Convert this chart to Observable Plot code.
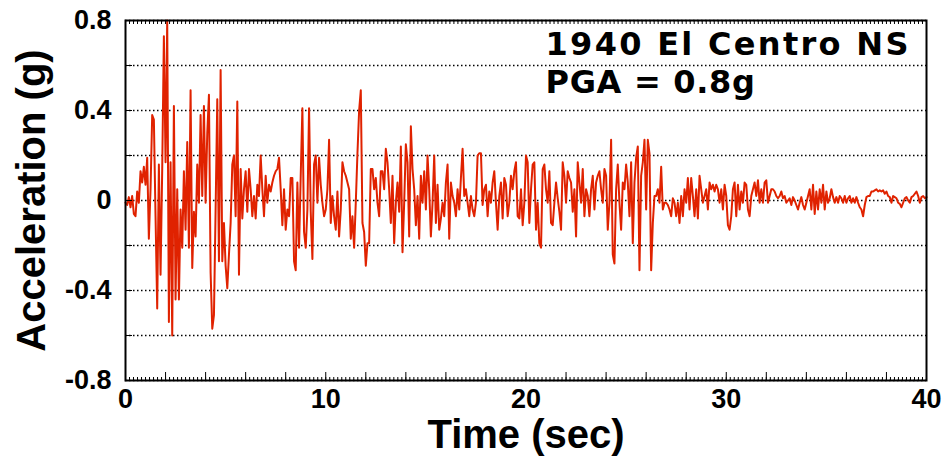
<!DOCTYPE html>
<html><head><meta charset="utf-8">
<script src="https://cdn.jsdelivr.net/npm/d3@7"></script>
<script src="https://cdn.jsdelivr.net/npm/@observablehq/plot@0.6"></script>
<style>
body{margin:0;background:#fff}
</style></head><body><div id="chart"></div>
<script>
// Ground acceleration (g) at a 1/12 s sampling interval
const sampleInterval = 1 / 12; // seconds between readings
const acc_0_5 = [-0.01,-0.02,0.015,-0.03,0.02,-0.06,-0.07,0.04,-0.01,0.13,
  0.08,0.15,0.07,0.19,-0.17,0.05,0.38,0.36,-0.07,-0.48,
  0.16,-0.33,0.14,0.73,0.17,0.8,-0.54,0.17,-0.60,0.42,
  -0.44,0.05,-0.44,-0.04,-0.21,0.13,-0.13,0.26,-0.21,0.49,
  -0.30,-0.05,-0.16,0.16,-0.01,0.38,0.02,0.42,-0.01,0.30,
  0.47,-0.32,-0.57,-0.51,-0.04,0.45,-0.27,0.58,-0.27,-0.10,
  -0.29,-0.39,-0.24,-0.10,0.16,0.20,-0.07,0.44,-0.33];
const acc_6_11 = [0.14,-0.08,0.05,0.13,-0.05,0.14,0.05,-0.07,0.02,-0.08,
  0.07,0.02,0.20,0.05,-0.07,0.11,-0.01,0.07,0.04,0.08,
  0.11,0.13,0.14,0.19,0.05,-0.11,0.05,-0.13,-0.04,-0.07,
  0.10,0.10,-0.27,-0.31,0.08,-0.21,0.11,0.41,-0.14,-0.21,
  -0.04,0.41,-0.05,-0.26,0.16,0.20,-0.01,0.19,0.07,-0.01,
  -0.07,-0.04,0.05,0.27,-0.10,0.02,-0.07,-0.13,0.04,-0.16,
  -0.04,0.17,0.13,0.11,0.08,0.05,-0.17,-0.07,-0.21,-0.01,
  0.21,0.40];
const acc_12_17 = [0.49,-0.10,-0.14,-0.29,-0.19,-0.19,0.14,0.14,0.05,0.10,
  -0.01,-0.07,0.13,0.13,0.05,0.23,0.17,0.05,-0.10,0.11,
  -0.19,-0.01,0.08,-0.05,0.24,-0.23,-0.01,0.25,0.17,-0.16,
  0.33,0.14,0.05,-0.11,0.02,-0.17,0.11,-0.01,0.13,-0.04,
  0.20,0.05,-0.16,-0.01,0.20,-0.10,0.07,-0.13,-0.08,-0.01,
  -0.07,0.08,0.16,-0.17,0.08,0.02,-0.01,-0.07,0.05,-0.04,
  0.10,0.23,0.02,0.05,-0.01,-0.07,0.02,-0.04,-0.07,-0.01,
  0.20,0.21];
const acc_18_23 = [0.21,-0.02,0.05,0.07,-0.07,0.04,-0.01,0.08,0.13,-0.01,
  -0.13,0.02,0.08,-0.08,0.10,0.07,-0.07,-0.01,0.11,0.05,
  0.13,0.17,-0.07,-0.08,0.05,-0.11,-0.01,0.20,0.17,-0.10,
  0.05,0.16,0.17,-0.13,-0.01,-0.19,-0.21,0.14,0.16,0.05,
  -0.01,0.13,-0.10,-0.11,-0.01,0.08,0.01,-0.05,-0.13,0.17,
  0.11,-0.01,0.13,0.10,0.08,-0.05,0.05,-0.16,0.17,0.08,
  -0.01,0.14,-0.07,0.05,0.02,-0.07,0.05,0.11,-0.04,0.08,
  0.11,0.13];
const acc_24_29 = [0.05,-0.01,0.14,0.11,-0.13,-0.01,0.27,-0.24,-0.28,0.05,
  0.16,-0.01,-0.13,0.08,0.05,0.16,0.08,-0.07,0.17,-0.19,
  0.08,0.19,0.24,-0.31,0.11,0.17,0.27,-0.04,0.27,0.21,
  -0.31,-0.10,0.02,0.02,0.05,-0.01,0.15,-0.04,-0.01,-0.01,
  -0.02,-0.04,-0.07,0.01,-0.01,-0.07,-0.01,-0.10,0.02,-0.07,
  0.05,-0.01,0.10,-0.04,0.10,0.02,-0.07,0.05,-0.08,0.11,
  0.05,-0.01,0.02,0.05,-0.04,0.08,0.05,0.07,0.04,0.07,
  0.05,-0.01];
const acc_30_34 = [0.05,-0.04,0.07,0.02,-0.11,-0.13,-0.07,0.05,0.08,-0.07,
  0.07,-0.04,0.04,-0.01,0.08,0.07,-0.04,-0.07,0.02,0.05,
  0.08,0.02,0.09,-0.01,0.05,-0.01,0.08,0.09,-0.01,0.02,
  0.05,0.05,0.04,0.02,0.01,0.02,0.04,0.01,0.02,-0.01,
  0.00,0.01,-0.02,0.015,0.00,-0.02,-0.04,-0.01,0.015,-0.02,
  -0.04,-0.01,0.02,0.05,-0.04,0.07,-0.06,0.04,-0.04,0.05];
const acc_35_40 = [-0.01,0.07,-0.04,0.04,-0.01,0.01,0.05,0.015,-0.01,0.015,
  -0.01,0.02,0.01,-0.01,0.02,-0.01,0.01,0.02,-0.01,0.01,
  -0.01,0.015,-0.01,-0.03,-0.04,-0.07,-0.02,0.015,0.02,0.02,
  0.04,0.04,0.045,0.05,0.04,0.045,0.04,0.045,0.03,0.04,
  0.02,0.015,-0.01,0.02,0.015,0.01,-0.01,-0.015,-0.03,-0.01,
  0.01,0.015,0.00,-0.01,0.015,0.02,0.03,0.04,0.02,-0.01,
  0.015,0.02,0.01,0.015];

const xLabelTicks = [0, 10, 20, 30, 40];
const yLabelTicks = [-0.8, -0.4, 0, 0.4, 0.8];
const title1 = "1940 El Centro NS";
const title2 = "PGA = 0.8g";
const xTitle = "Time (sec)";
const yTitle = "Acceleration (g)";

const accel = [].concat(acc_0_5, acc_6_11, acc_12_17, acc_18_23, acc_24_29, acc_30_34, acc_35_40);
const record = accel.map((a, i) => ({t: i * sampleInterval, a}));

const chart = Plot.plot({
  width: 947, height: 464,
  marginLeft: 125, marginRight: 21, marginTop: 20, marginBottom: 84,
  style: {fontFamily: "'Liberation Sans', Arial, sans-serif", fontWeight: "bold", fontSize: "27px", background: "#fff", color: "#000"},
  x: {domain: [0, 40]},
  y: {domain: [-0.8, 0.8]},
  marks: [
    Plot.gridY({ticks: 8, stroke: "#000", strokeOpacity: 1, strokeWidth: 1.3, strokeDasharray: "1.5,2.5"}),
    Plot.line(record, {x: "t", y: "a", stroke: "#e02200", strokeWidth: 2}),
    Plot.frame({stroke: "#000", strokeWidth: 2}),
    Plot.axisX({ticks: 200, tickSize: -3, tickFormat: () => "", label: null}),
    Plot.axisX({anchor: "top", ticks: 200, tickSize: -3, tickFormat: () => "", label: null}),
    Plot.axisX({ticks: 20, tickSize: -8, tickFormat: () => "", label: null}),
    Plot.axisX({ticks: xLabelTicks, tickSize: 0, tickPadding: 8, tickFormat: d => String(d), label: null}),
    Plot.axisY({ticks: 8, tickSize: -7, tickFormat: () => "", label: null}),
    Plot.axisY({ticks: yLabelTicks, tickSize: 0, tickPadding: 14, tickFormat: d => d === 0 ? "0" : String(d), label: null}),
    Plot.axisY({ticks: [], tickSize: 0, label: yTitle, labelAnchor: "center", labelOffset: 109, labelArrow: "none", fontSize: 40, fontWeight: "bold"}),
    Plot.text([xTitle], {frameAnchor: "bottom", dy: 55, lineAnchor: "middle", fontSize: 40, fontWeight: "bold"}),
    Plot.text([title1], {frameAnchor: "top-left", dx: 420, dy: 12, textAnchor: "start", lineAnchor: "top", fontSize: 32, fontWeight: "bold", fontFamily: "DejaVu Sans"}),
    Plot.text([title2], {frameAnchor: "top-left", dx: 420, dy: 50, textAnchor: "start", lineAnchor: "top", fontSize: 32, fontWeight: "bold", fontFamily: "DejaVu Sans"})
  ]
});
d3.select(chart).selectAll("text").each(function() {
  const s = d3.select(this);
  if (s.text() === title1) s.attr("letter-spacing", "2.3px");
  if (s.text() === title2) s.attr("letter-spacing", "0.7px");
});
document.getElementById("chart").appendChild(chart);
</script>
</body></html>
